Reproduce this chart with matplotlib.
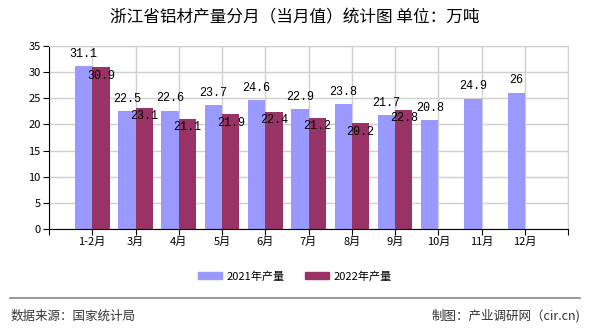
import numpy as np
import matplotlib
matplotlib.use("Agg")
import matplotlib.pyplot as plt
from matplotlib.patches import Patch

plt.rcParams["font.family"] = ["Noto Sans CJK SC", "DejaVu Sans"]

months = ["1-2月", "3月", "4月", "5月", "6月", "7月", "8月", "9月", "10月", "11月", "12月"]
y2021 = [31.1, 22.5, 22.6, 23.7, 24.6, 22.9, 23.8, 21.7, 20.8, 24.9, 26]
y2022 = [30.9, 23.1, 21.1, 21.9, 22.4, 21.2, 20.2, 22.8]
C21, C22 = "#9999FF", "#993366"

fig = plt.figure(figsize=(5.9, 3.3), dpi=100)
ax = fig.add_axes([0.083, 0.306, 0.880, 0.555])

x = np.arange(1, len(months) + 1)
w = 0.4
ax.bar(x - w / 2, y2021, w, color=C21, zorder=2)
x2 = x[:len(y2022)]
ax.bar(x2 + w / 2, y2022, w, color=C22, zorder=2)

mono = ["Liberation Mono", "DejaVu Sans Mono"]
for xi, v in zip(x, y2021):
    ax.annotate(f"{v:g}", (xi - w / 2, v), xytext=(0, 9), textcoords="offset points",
                ha="center", va="center", fontsize=8.5, family=mono, zorder=3)
for xi, v in zip(x2, y2022):
    ax.annotate(f"{v:g}", (xi + w / 2, v), xytext=(0, -6), textcoords="offset points",
                ha="center", va="center", fontsize=8.5, family=mono, zorder=3)

ax.set_xlim(0, 12)
ax.set_ylim(0, 35)
ax.set_yticks(range(0, 36, 5))
ax.set_xticks(range(0, 13))
ax.set_xticklabels([""] + months + [""])
ax.tick_params(axis="both", labelsize=8, length=4, color="black", pad=2)
ax.grid(True, color="#d0d0d0", lw=1, zorder=0)
for s in ["top", "right"]:
    ax.spines[s].set_color("#d0d0d0")
for s in ["left", "bottom"]:
    ax.spines[s].set_color("black")

fig.text(0.5, 0.945, "浙江省铝材产量分月（当月值）统计图 单位：万吨",
         ha="center", va="center", fontsize=12)

handles = [Patch(color=C21, label="2021年产量"), Patch(color=C22, label="2022年产量")]
fig.legend(handles=handles, loc="center", bbox_to_anchor=(0.5, 0.163), ncol=2,
           frameon=False, fontsize=8, handlelength=2.2, handleheight=0.7,
           handletextpad=0.4, columnspacing=1.8)

fig.add_artist(plt.Line2D([0.017, 0.983], [0.097, 0.097], color="#888888", lw=1.2))
fig.text(0.017, 0.042, "数据来源：国家统计局", ha="left", va="center", fontsize=9, color="#333333")
fig.text(0.983, 0.042, "制图：产业调研网（cir.cn)", ha="right", va="center", fontsize=9, color="#333333")

fig.savefig("out.png", dpi=100)
